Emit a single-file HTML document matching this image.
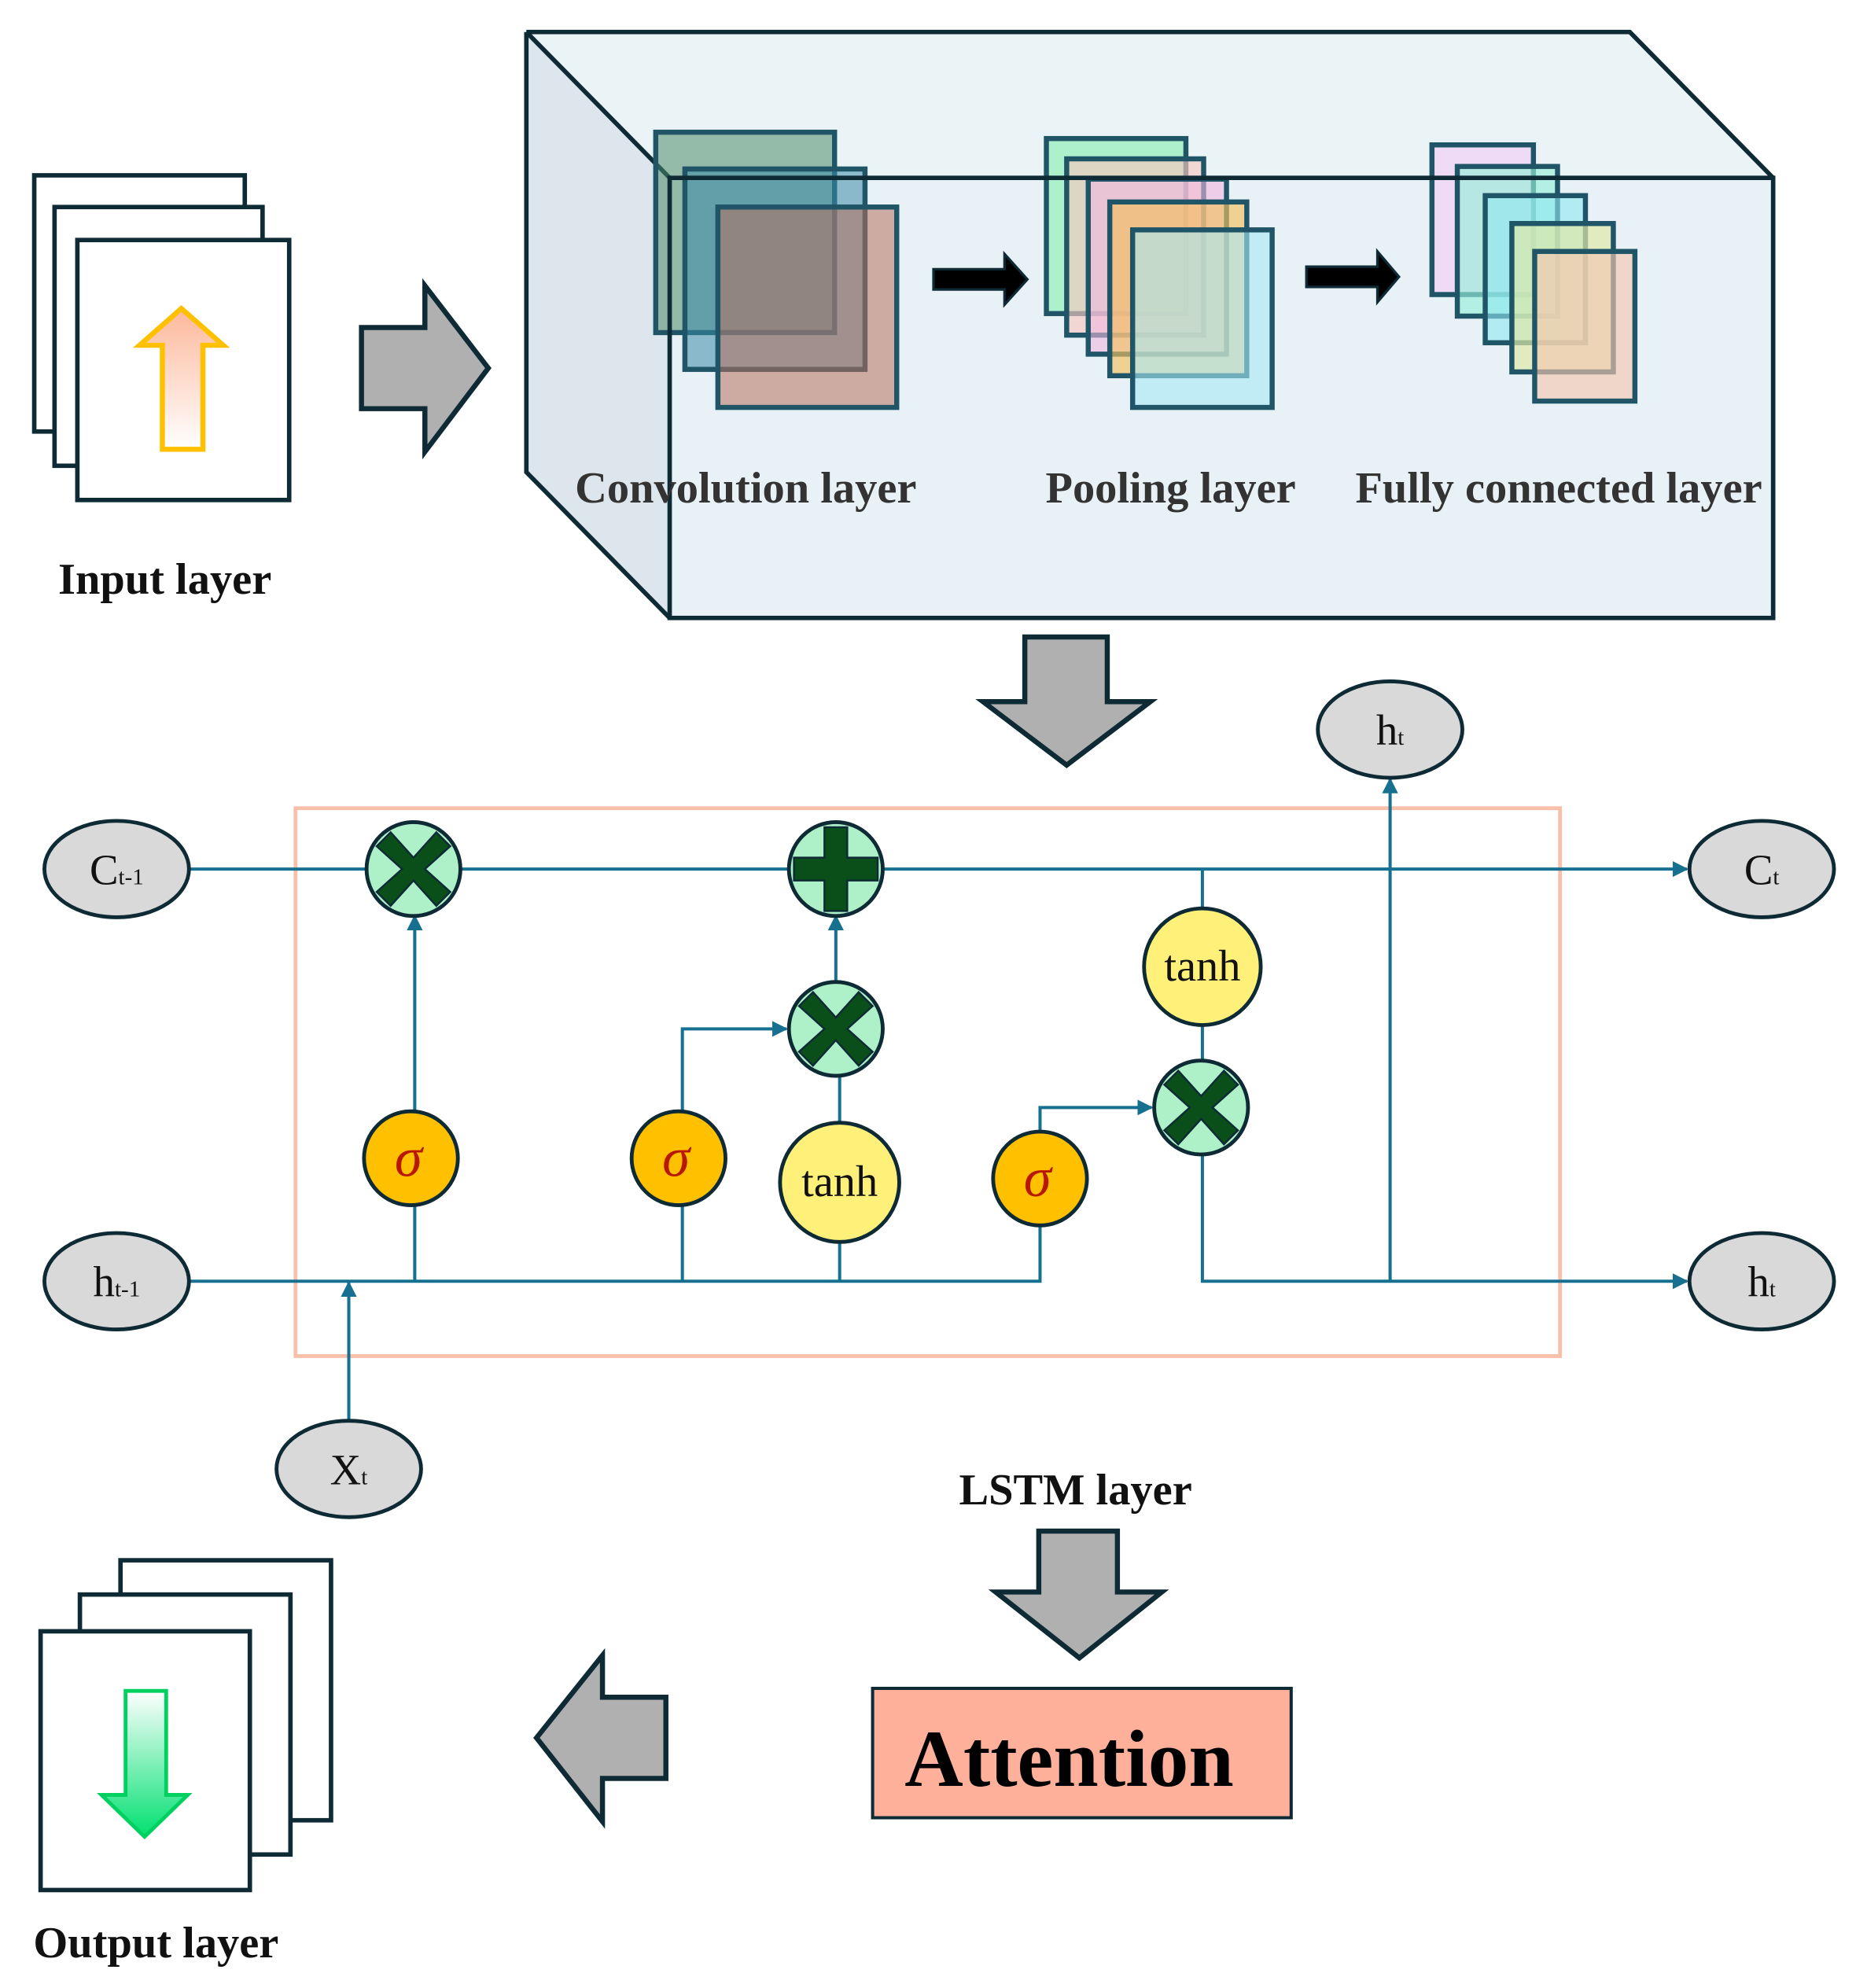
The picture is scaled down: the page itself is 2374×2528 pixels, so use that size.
<!DOCTYPE html>
<html><head><meta charset="utf-8"><style>html,body{margin:0;padding:0;background:#fff}svg{display:block}</style></head>
<body>
<svg width="2374" height="2528" viewBox="0 0 1472 1567" xmlns="http://www.w3.org/2000/svg" font-family="Liberation Serif, serif">
<defs>
<linearGradient id="og" x1="0" y1="0" x2="0" y2="1"><stop offset="0" stop-color="#fcb89a"/><stop offset="1" stop-color="#fff"/></linearGradient>
<linearGradient id="gg" x1="0" y1="0" x2="0" y2="1"><stop offset="0" stop-color="#fff"/><stop offset="1" stop-color="#00e070"/></linearGradient>
<marker id="ar" viewBox="0 0 10 10" refX="9" refY="5" markerWidth="5" markerHeight="5" orient="auto"><path d="M0,0L10,5L0,10z" fill="#17708f"/></marker>
</defs>
<g stroke="#0d2a35" stroke-width="3.5" fill="#fff">
<rect x="27" y="138" width="166" height="202"/>
<rect x="43" y="163" width="164" height="204"/>
<rect x="61" y="189" width="167" height="205"/>
</g>
<path d="M128,354V272H110L143,243L176,272H160V354Z" fill="url(#og)" stroke="#ffc000" stroke-width="4"/>
<text x="130" y="468" font-size="35" font-weight="bold" text-anchor="middle" fill="#111">Input layer</text>
<path d="M285,258H335V225L385,290L335,356V322H285Z" fill="#b0b0b0" stroke="#0d2a35" stroke-width="4"/>
<path d="M415,25H1285L1398,140H528Z" fill="#eaf3f6"/>
<path d="M415,25L528,140V487L415,372Z" fill="#dde6ec"/>
<rect x="528" y="140" width="872" height="347" fill="#e8f1f5"/>
<g stroke="#0d2a35" stroke-width="3.5" fill="none">
<path d="M415,25H1285L1398,140"/><path d="M415,25L528,140"/><path d="M415,25V372L528,487"/>
</g>
<g stroke="#1f5566" stroke-width="4">
<rect x="517" y="104" width="141" height="158" fill="#4d8a6a" fill-opacity="0.55"/>
<rect x="540" y="133" width="142" height="158" fill="#3b8aa8" fill-opacity="0.55"/>
<rect x="566" y="163" width="141" height="158" fill="#b7705c" fill-opacity="0.55"/>
<rect x="825" y="109" width="110" height="138" fill="#a6f0c8" fill-opacity="0.9"/>
<rect x="841" y="125" width="108" height="139" fill="#f7c8c0" fill-opacity="0.65"/>
<rect x="858" y="141" width="109" height="138" fill="#f0b8e0" fill-opacity="0.6"/>
<rect x="875" y="159" width="108" height="137" fill="#f2c060" fill-opacity="0.65"/>
<rect x="893" y="181" width="110" height="140" fill="#a8eaf5" fill-opacity="0.6"/>
<rect x="1129" y="114" width="80" height="118" fill="#f0d8f5" fill-opacity="0.9"/>
<rect x="1149" y="131" width="79" height="118" fill="#98eed8" fill-opacity="0.65"/>
<rect x="1171" y="154" width="79" height="116" fill="#90e8f0" fill-opacity="0.6"/>
<rect x="1192" y="176" width="80" height="117" fill="#e0e8a8" fill-opacity="0.7"/>
<rect x="1210" y="198" width="79" height="118" fill="#f5c8b0" fill-opacity="0.65"/>
</g>
<path d="M528,140H1398V487H528Z" fill="none" stroke="#0d2a35" stroke-width="3.5"/>
<path d="M736,212H792V200L810,220L792,240V228H736Z" fill="#000" stroke="#0d2a35" stroke-width="2"/>
<path d="M1030,210H1086V198L1103,218L1086,238V226H1030Z" fill="#000" stroke="#0d2a35" stroke-width="2"/>
<g font-size="35" font-weight="bold" fill="#333" text-anchor="middle">
<text x="588" y="396">Convolution layer</text>
<text x="923" y="396">Pooling layer</text>
<text x="1229" y="396">Fully connected layer</text>
</g>
<path d="M808,502H873V553H907L841,603L775,553H808Z" fill="#b0b0b0" stroke="#0d2a35" stroke-width="4"/>
<rect x="233" y="637" width="997" height="432" fill="none" stroke="#f8c0a8" stroke-width="3"/>
<g stroke="#17708f" stroke-width="2.5" fill="none">
<path d="M150,685H1330" marker-end="url(#ar)"/>
<path d="M150,1010H820V966"/>
<path d="M948,910V1010H1330" marker-end="url(#ar)"/>
<path d="M327,1010V722" marker-end="url(#ar)"/>
<path d="M538,1010V811H620" marker-end="url(#ar)"/>
<path d="M662,1010V848"/>
<path d="M659,774V722" marker-end="url(#ar)"/>
<path d="M820,892V873H908" marker-end="url(#ar)"/>
<path d="M948,685V836"/>
<path d="M1096,1010V614" marker-end="url(#ar)"/>
<path d="M275,1120V1011" marker-end="url(#ar)"/>
</g>
<g fill="#d9d9d9" stroke="#0d2a35" stroke-width="3">
<ellipse cx="92" cy="685" rx="57" ry="38"/><ellipse cx="92" cy="1010" rx="57" ry="38"/>
<ellipse cx="1389" cy="685" rx="57" ry="38"/><ellipse cx="1389" cy="1010" rx="57" ry="38"/>
<ellipse cx="1096" cy="575" rx="57" ry="38"/><ellipse cx="275" cy="1158" rx="57" ry="38"/>
</g>
<g font-size="34" fill="#111" text-anchor="middle">
<text x="92" y="697">C<tspan font-size="18">t-1</tspan></text>
<text x="92" y="1022">h<tspan font-size="18">t-1</tspan></text>
<text x="1389" y="697">C<tspan font-size="18">t</tspan></text>
<text x="1389" y="1022">h<tspan font-size="18">t</tspan></text>
<text x="1096" y="587">h<tspan font-size="18">t</tspan></text>
<text x="275" y="1170">X<tspan font-size="18">t</tspan></text>
</g>
<g fill="#aef0c8" stroke="#0d2a35" stroke-width="3">
<circle cx="326" cy="685" r="37"/><circle cx="659" cy="685" r="37"/>
<circle cx="659" cy="811" r="37"/><circle cx="947" cy="873" r="37"/>
</g>
<g fill="#0a4f1a" stroke="#0d2a35" stroke-width="1.5">
<path d="M0,-9L-18,-29L-29,-18L-9,0L-29,18L-18,29L0,9L18,29L29,18L9,0L29,-18L18,-29Z" transform="translate(326,685)"/>
<path d="M0,-9L-18,-29L-29,-18L-9,0L-29,18L-18,29L0,9L18,29L29,18L9,0L29,-18L18,-29Z" transform="translate(659,811)"/>
<path d="M0,-9L-18,-29L-29,-18L-9,0L-29,18L-18,29L0,9L18,29L29,18L9,0L29,-18L18,-29Z" transform="translate(947,873)"/>
<path d="M-9,-33H9V-9H33V9H9V33H-9V9H-33V-9H-9Z" transform="translate(659,685)"/>
</g>
<g fill="#ffc000" stroke="#0d2a35" stroke-width="3">
<circle cx="324" cy="913" r="37"/><circle cx="535" cy="913" r="37"/><circle cx="820" cy="929" r="37"/>
</g>
<g font-size="44" font-style="italic" fill="#b81800" text-anchor="middle">
<text x="322" y="927">σ</text><text x="533" y="927">σ</text><text x="818" y="943">σ</text>
</g>
<g fill="#fff07a" stroke="#0d2a35" stroke-width="3">
<circle cx="662" cy="932" r="47"/><circle cx="948" cy="762" r="46"/>
</g>
<g font-size="35" fill="#111" text-anchor="middle">
<text x="662" y="943">tanh</text><text x="948" y="773">tanh</text>
</g>
<text x="848" y="1186" font-size="35" font-weight="bold" text-anchor="middle" fill="#111">LSTM layer</text>
<path d="M819,1207H881V1255H916L851,1307L785,1255H819Z" fill="#b0b0b0" stroke="#0d2a35" stroke-width="4"/>
<rect x="688" y="1331" width="330" height="102" fill="#ffb09a" stroke="#0d2a35" stroke-width="2.5"/>
<text x="843" y="1408" font-size="64" font-weight="bold" text-anchor="middle" fill="#000">Attention</text>
<path d="M525,1338H475V1305L423,1370L475,1436V1402H525Z" fill="#b0b0b0" stroke="#0d2a35" stroke-width="4"/>
<g stroke="#0d2a35" stroke-width="3.5" fill="#fff">
<rect x="95" y="1230" width="166" height="205"/>
<rect x="63" y="1257" width="166" height="205"/>
<rect x="32" y="1286" width="165" height="204"/>
</g>
<path d="M99,1333H131V1415H148L114,1448L80,1415H99Z" fill="url(#gg)" stroke="#00d060" stroke-width="3"/>
<text x="123" y="1543" font-size="35" font-weight="bold" text-anchor="middle" fill="#111">Output layer</text>
</svg>
</body></html>
